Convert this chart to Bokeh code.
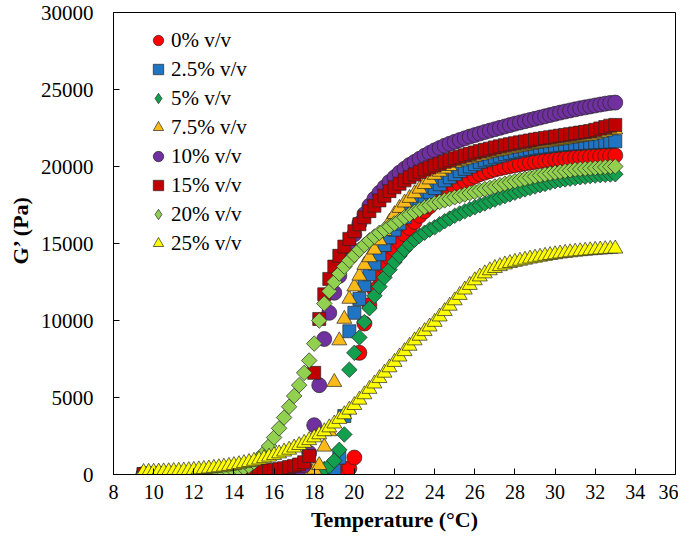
from bokeh.plotting import figure
from bokeh.models import Range1d, FixedTicker, Legend, LegendItem, Title, ColumnDataSource
from bokeh.embed import file_html
from bokeh.resources import INLINE
import math

# Temperature (deg C), 0.25 deg steps
temperature = [
    9.5, 9.75,
    10.0, 10.25, 10.5, 10.75, 11.0, 11.25, 11.5, 11.75,
    12.0, 12.25, 12.5, 12.75, 13.0, 13.25, 13.5, 13.75,
    14.0, 14.25, 14.5, 14.75, 15.0, 15.25, 15.5, 15.75,
    16.0, 16.25, 16.5, 16.75, 17.0, 17.25, 17.5, 17.75,
    18.0, 18.25, 18.5, 18.75, 19.0, 19.25, 19.5, 19.75,
    20.0, 20.25, 20.5, 20.75, 21.0, 21.25, 21.5, 21.75,
    22.0, 22.25, 22.5, 22.75, 23.0, 23.25, 23.5, 23.75,
    24.0, 24.25, 24.5, 24.75, 25.0, 25.25, 25.5, 25.75,
    26.0, 26.25, 26.5, 26.75, 27.0, 27.25, 27.5, 27.75,
    28.0, 28.25, 28.5, 28.75, 29.0, 29.25, 29.5, 29.75,
    30.0, 30.25, 30.5, 30.75, 31.0, 31.25, 31.5, 31.75,
    32.0, 32.25, 32.5, 32.75,
    33.0,
]

g_0 = [20, 20,
       20, 20, 20, 20, 20, 20, 20, 20,
       25, 25, 25, 25, 30, 30, 30, 30,
       30, 35, 35, 40, 40, 45, 50, 55,
       60, 65, 70, 80, 90, 100, 110, 120,
       130, 150, 170, 190, 210, 240, 280, 400,
       1100, 7900, 9800, 11000, 12000, 12800, 13500, 14100,
       14600, 15100, 15600, 16000, 16400, 16800, 17100, 17400,
       17700, 17950, 18200, 18450, 18650, 18850, 19050, 19200,
       19350, 19500, 19600, 19700, 19800, 19880, 19950, 20020,
       20080, 20140, 20200, 20250, 20300, 20340, 20380, 20420,
       20450, 20480, 20510, 20540, 20570, 20590, 20610, 20630,
       20650, 20670, 20690, 20700,
       20720]

g_2_5 = [30, 30,
         30, 30, 30, 30, 30, 30, 30, 30,
         30, 30, 30, 35, 35, 35, 40, 40,
         40, 45, 45, 50, 55, 60, 65, 70,
         75, 80, 90, 100, 110, 120, 130, 150,
         170, 190, 220, 260, 350, 1100, 3800, 9300,
         10500, 11400, 12300, 13000, 13700, 14300, 14900, 15400,
         15900, 16300, 16700, 17100, 17400, 17750, 18050, 18350,
         18600, 18850, 19100, 19300, 19500, 19700, 19850, 20000,
         20150, 20300, 20400, 20500, 20600, 20700, 20800, 20880,
         20950, 21020, 21080, 21140, 21190, 21240, 21280, 21320,
         21360, 21400, 21430, 21460, 21490, 21510, 21530, 21550,
         21570, 21590, 21600, 21620,
         21640]

g_5 = [20, 20,
       20, 20, 20, 20, 20, 20, 25, 25,
       25, 25, 30, 30, 30, 35, 35, 40,
       40, 45, 50, 55, 60, 65, 70, 80,
       85, 90, 100, 110, 120, 130, 150, 170,
       200, 250, 350, 550, 900, 1600, 2600, 6800,
       7900, 8900, 9900, 10800, 11600, 12200, 12800, 13300,
       13800, 14200, 14600, 14950, 15250, 15500, 15700, 15900,
       16050, 16250, 16450, 16620, 16800, 16950, 17090, 17220,
       17350, 17480, 17600, 17730, 17850, 17970, 18080, 18190,
       18300, 18410, 18510, 18610, 18700, 18790, 18870, 18960,
       19050, 19110, 19160, 19210, 19250, 19300, 19340, 19380,
       19410, 19440, 19460, 19480,
       19500]

g_7_5 = [20, 20,
         20, 20, 20, 20, 20, 20, 20, 25,
         25, 25, 25, 30, 30, 30, 35, 35,
         40, 40, 45, 50, 55, 60, 70, 80,
         90, 100, 110, 130, 150, 180, 210, 250,
         300, 600, 1800, 2800, 6000, 8700, 10100, 11400,
         12200, 12900, 13600, 14100, 14600, 15200, 15800, 16400,
         16900, 17300, 17650, 17950, 18250, 18550, 18850, 19150,
         19450, 19650, 19850, 20020, 20230, 20330, 20430, 20520,
         20610, 20700, 20780, 20860, 20940, 21010, 21080, 21150,
         21210, 21270, 21330, 21390, 21450, 21500, 21550, 21600,
         21650, 21700, 21750, 21800, 21850, 21900, 21950, 22000,
         22080, 22170, 22260, 22350,
         22400]

g_10 = [20, 20,
        20, 20, 20, 20, 25, 25, 25, 25,
        30, 30, 30, 35, 35, 40, 40, 45,
        50, 55, 60, 70, 80, 90, 100, 120,
        140, 160, 190, 220, 260, 350, 600, 1400,
        3200, 5800, 8800, 10500, 11800, 12900, 13900, 14800,
        15600, 16300, 16900, 17450, 17900, 18300, 18650, 19000,
        19300, 19600, 19850, 20100, 20300, 20500, 20700, 20880,
        21050, 21200, 21350, 21480, 21600, 21720, 21830, 21940,
        22040, 22140, 22240, 22330, 22420, 22510, 22600, 22690,
        22780, 22860, 22940, 23020, 23100, 23180, 23260, 23340,
        23420, 23500, 23570, 23640, 23710, 23780, 23840, 23900,
        23960, 24020, 24080, 24130,
        24150]

g_15 = [20, 20,
        20, 20, 25, 25, 25, 30, 30, 35,
        35, 40, 45, 50, 55, 60, 70, 80,
        90, 100, 120, 140, 160, 190, 220, 260,
        300, 350, 410, 480, 560, 650, 800, 1200,
        6600, 10100, 11700, 12700, 13500, 14200, 14800, 15300,
        15800, 16250, 16700, 17100, 17450, 17800, 18100, 18400,
        18650, 18880, 19100, 19300, 19480, 19650, 19800, 19940,
        20070, 20190, 20310, 20420, 20530, 20630, 20730, 20820,
        20910, 21000, 21080, 21160, 21240, 21310, 21380, 21450,
        21510, 21570, 21630, 21690, 21750, 21800, 21850, 21900,
        21950, 22000, 22050, 22100, 22150, 22200, 22250, 22300,
        22380, 22470, 22560, 22650,
        22700]

g_20 = [30, 30,
        35, 35, 40, 40, 45, 50, 55, 60,
        70, 80, 90, 100, 120, 140, 170, 200,
        250, 320, 420, 560, 800, 1050, 1400, 1850,
        2400, 3000, 3700, 4400, 5100, 5800, 6600, 7400,
        8500, 10000, 11100, 11900, 12500, 13050, 13500, 13900,
        14250, 14600, 14900, 15200, 15450, 15700, 15900, 16100,
        16300, 16500, 16700, 16880, 17050, 17200, 17350, 17480,
        17600, 17700, 17800, 17900, 18000, 18090, 18180, 18270,
        18350, 18440, 18530, 18610, 18700, 18790, 18880, 18970,
        19050, 19130, 19200, 19280, 19350, 19420, 19480, 19540,
        19600, 19650, 19700, 19750, 19800, 19830, 19850, 19880,
        19900, 19930, 19960, 19980,
        20000]

g_25 = [150, 160,
        170, 180, 190, 200, 215, 230, 250, 270,
        290, 320, 350, 380, 420, 460, 500, 550,
        600, 660, 730, 800, 880, 960, 1050, 1150,
        1250, 1360, 1480, 1600, 1740, 1900, 2050, 2220,
        2400, 2600, 2800, 3050, 3300, 3600, 3900, 4200,
        4500, 4850, 5200, 5550, 5900, 6250, 6600, 6950,
        7300, 7650, 8000, 8350, 8700, 9000, 9300, 9600,
        9900, 10250, 10600, 10950, 11300, 11650, 12000, 12300,
        12600, 12850, 13050, 13250, 13400, 13520, 13630, 13720,
        13800, 13870, 13940, 14010, 14070, 14130, 14190, 14240,
        14290, 14340, 14380, 14420, 14460, 14490, 14520, 14550,
        14580, 14600, 14620, 14640,
        14660]

labels = ["0% v/v", "2.5% v/v", "5% v/v", "7.5% v/v",
          "10% v/v", "15% v/v", "20% v/v", "25% v/v"]
series = [g_0, g_2_5, g_5, g_7_5, g_10, g_15, g_20, g_25]
markers = ["circle", "square", "diamond", "triangle",
           "circle", "square", "diamond", "triangle"]
colors = ["#FF0000", "#1F74C4", "#12A04E", "#FBBA17",
          "#7030A0", "#C00000", "#92D050", "#FFFF00"]
sizes = [15, 13, 11, 15, 15, 13, 11, 15]

x_ticks = [8, 10, 12, 14, 16, 18, 20, 22, 24, 26, 28, 30, 32, 34, 36]
y_ticks = [0, 5000, 10000, 15000, 20000, 25000, 30000]

for s in series:
    assert len(s) == len(temperature)

FONT = "Liberation Serif"

p = figure(width=678, height=534, output_backend="svg", toolbar_location=None,
           x_range=Range1d(8, 36), y_range=Range1d(0, 30000),
           min_border_left=104, min_border_right=3, min_border_top=12,
           min_border_bottom=58)
p.grid.visible = False
p.outline_line_color = "black"
p.outline_line_width = 1
p.background_fill_color = "white"
p.border_fill_color = "white"

for ax in (p.xaxis[0], p.yaxis[0]):
    ax.major_tick_in = 6
    ax.major_tick_out = 0
    ax.minor_tick_line_color = None
    ax.axis_line_color = "black"
    ax.major_tick_line_color = "black"
    ax.major_label_text_font = FONT
    ax.major_label_text_font_size = "20px"
    ax.major_label_text_color = "black"

p.yaxis.major_label_text_font_size = "21px"
p.xaxis.ticker = FixedTicker(ticks=x_ticks)
p.yaxis.ticker = FixedTicker(ticks=y_ticks)
p.xaxis.major_label_standoff = 10
p.yaxis.major_label_standoff = 20
p.xaxis.axis_label = "Temperature (°C)"
p.xaxis.axis_label_text_font = FONT
p.xaxis.axis_label_text_font_style = "bold"
p.xaxis.axis_label_text_font_size = "22px"
p.xaxis.axis_label_text_color = "black"
p.xaxis.axis_label_standoff = 5

p.add_layout(Title(text="G’ (Pa)", align="left", offset=210,
                   text_font=FONT, text_font_style="bold",
                   text_font_size="22px", text_color="black"), "left")

items = []
for lab, ys, mk, col, sz in zip(labels, series, markers, colors, sizes):
    src = ColumnDataSource(dict(t=temperature, g=ys))
    if mk == "diamond":
        p.scatter("t", "g", source=src, marker="square", size=sz, angle=math.pi / 4,
                  fill_color=col, line_color="#262626", line_width=0.7)
        leg = p.scatter("t", "g", source=src, marker="diamond", size=sz,
                        fill_color=col, line_color="#262626", line_width=0.7,
                        visible=False)
        items.append(LegendItem(label=lab, renderers=[leg]))
    else:
        r = p.scatter("t", "g", source=src, marker=mk, size=sz,
                      fill_color=col, line_color="#262626", line_width=0.7)
        items.append(LegendItem(label=lab, renderers=[r]))

legend = Legend(items=items, location=(32, 217), margin=0, padding=0,
                glyph_width=26, glyph_height=28, label_height=28,
                spacing=1, label_standoff=0,
                label_text_font=FONT, label_text_font_size="21px",
                label_text_color="black", inactive_fill_alpha=0,
                border_line_color=None, background_fill_alpha=0)
p.add_layout(legend)

open("out.html", "w").write(file_html(p, INLINE))
